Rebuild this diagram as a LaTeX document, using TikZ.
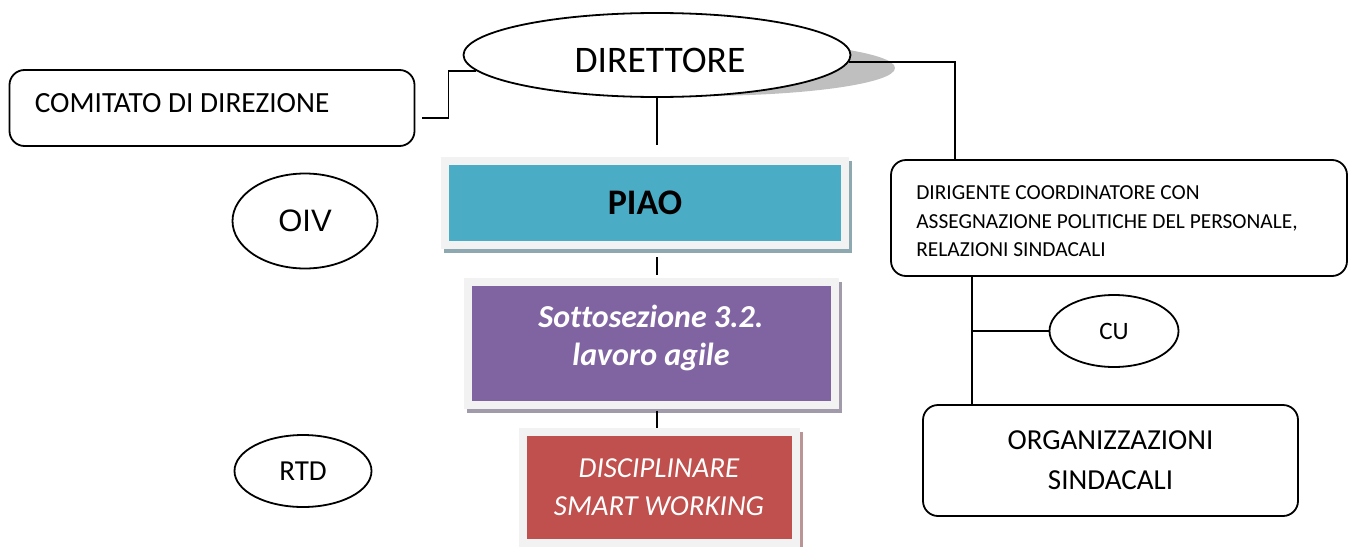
\documentclass[tikz,border=0pt]{standalone}
\usepackage{fontspec}
\setmainfont[Ligatures=NoCommon]{Carlito}
\newfontfamily\arialfont{Liberation Sans}
\usetikzlibrary{positioning,calc,shapes.geometric,shadows}
\definecolor{piaoblue}{HTML}{4BACC6}
\definecolor{piaoshadow}{HTML}{8EA8B2}
\definecolor{subpurple}{HTML}{8064A2}
\definecolor{subshadow}{HTML}{A19AAA}
\definecolor{discred}{HTML}{C0504D}
\definecolor{discshadow}{HTML}{B99595}
\definecolor{framegray}{HTML}{F2F2F2}
\definecolor{ovalshadow}{HTML}{BFBFBF}

\begin{document}
\begin{tikzpicture}[x=1pt, y=-1pt,
        oval/.style={draw, ellipse, fill=white, line width=1.8pt, inner sep=0pt},
        roundbox/.style={draw, rounded corners=15pt, line width=1.8pt, inner sep=0pt},
        framebox/.style={draw=framegray, line width=8pt, text=white, align=center, inner sep=0pt},
        boxshadow/.style={drop shadow={shadow xshift=3pt, shadow yshift=-4pt, opacity=1, fill=#1, draw=#1, line width=8pt}},
        txt/.style={inner sep=0pt, align=left},
        link/.style={line width=1.8pt}
    ]
    \useasboundingbox (0,0) rectangle (1351,546);

    % Direttore with its shadow
    \fill[ovalshadow] (697,68) ellipse [x radius=198pt, y radius=28pt];
    \node[oval, minimum width=387pt, minimum height=84pt] (direttore) at (657,55) {};
    \node[txt, font=\fontsize{37.5}{44}\selectfont] at ($(direttore.center)+(3,5)$) {DIRETTORE};

    % Comitato di direzione
    \node[roundbox, minimum width=405pt, minimum height=76pt] (comitato) at (212,108) {};
    \node[txt, anchor=west, font=\fontsize{29.3}{34}\selectfont] at ($(comitato.west)+(26,-5)$) {COMITATO DI DIREZIONE};

    % PIAO
    \node[framebox, boxshadow=piaoshadow, fill=piaoblue, text=black, minimum width=400pt, minimum height=84pt, font=\bfseries\fontsize{36}{44}\selectfont] (piao) at (645,203) {PIAO};

    % Sottosezione 3.2.
    \node[framebox, boxshadow=subshadow, fill=subpurple, minimum width=367pt, minimum height=123pt] (sottosezione) at (651,343) {};
    \node[txt, align=center, text=white, font=\bfseries\itshape\fontsize{32}{38}\selectfont] at ($(sottosezione.center)+(0,-5)$) {Sottosezione 3.2.\\lavoro agile};

    % Disciplinare
    \node[framebox, boxshadow=discshadow, fill=discred, minimum width=273pt, minimum height=111pt, font=\itshape\fontsize{29}{38}\selectfont] (disciplinare) at (659,487) {DISCIPLINARE\\SMART WORKING};

    % OIV and RTD
    \node[oval, minimum width=145pt, minimum height=95pt, font=\arialfont\fontsize{31}{36}\selectfont] (oiv) at (305,221) {OIV};
    \node[oval, minimum width=137pt, minimum height=72pt, font=\fontsize{29}{34}\selectfont] (rtd) at (303,471) {RTD};

    % Right branch
    \node[roundbox, minimum width=456pt, minimum height=116pt] (dirigente) at (1119,218) {};
    \node[txt, anchor=west, font=\fontsize{21.4}{28.5}\selectfont] at ($(dirigente.west)+(26,3.5)$) {DIRIGENTE COORDINATORE CON\\ASSEGNAZIONE POLITICHE DEL PERSONALE,\\RELAZIONI SINDACALI};
    \node[oval, minimum width=129pt, minimum height=72pt, font=\fontsize{25}{30}\selectfont] (cu) at (1114,331) {CU};
    \node[roundbox, minimum width=375pt, minimum height=111pt, align=center, font=\fontsize{29}{40}\selectfont] (organizzazioni) at (1110.5,460.5) {ORGANIZZAZIONI\\SINDACALI};

    % Central line
    \draw[link, shorten >=12pt] (direttore.south) -- (direttore.south |- piao.north);
    \draw[link, shorten <=8pt, shorten >=3pt] (piao.south -| direttore.south) -- (sottosezione.north -| direttore.south);
    \draw[link, shorten <=2pt] (sottosezione.south -| direttore.south) -- (disciplinare.north -| direttore.south);

    % Left link to the committee
    \coordinate (knee) at ($(comitato.east)+(33,10)$);
    \draw[link] (direttore.185) -| (knee) -- ([xshift=7pt, yshift=-10pt]comitato.east);

    % Right links
    \draw[link] (direttore.358) -| ([xshift=65pt]dirigente.north west);
    \coordinate (trunk) at ([xshift=82pt]dirigente.south west);
    \draw[link] (trunk) -- (trunk |- organizzazioni.north);
    \draw[link] (cu.west) -- (cu.west -| trunk);

\end{tikzpicture}
\end{document}
